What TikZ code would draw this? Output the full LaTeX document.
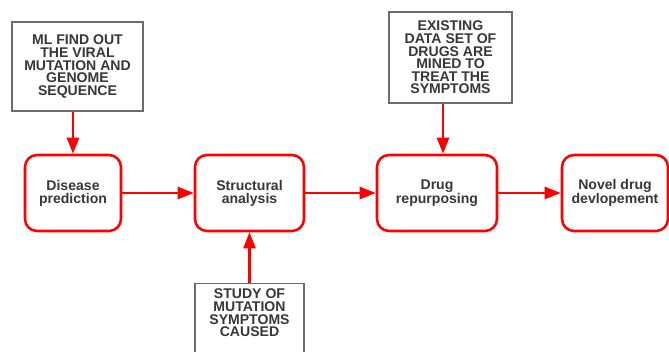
\documentclass[tikz,border=0pt]{standalone}
\usepackage{fontspec}
\setmainfont{Liberation Sans}
\usetikzlibrary{arrows.meta}
\definecolor{flowred}{RGB}{255,0,0}
\definecolor{txtgray}{RGB}{55,55,55}
\begin{document}
\begin{tikzpicture}[x=0.025cm,y=-0.025cm,
        note/.style={draw=gray!85!black,line width=1pt,fill=white,text=txtgray,align=center,
            font=\fontsize{10}{9}\selectfont\bfseries,inner sep=0pt},
        stage/.style={draw=flowred,line width=1.8pt,rounded corners=0.3cm,fill=white,text=txtgray,
            align=center,font=\fontsize{10}{9.2}\selectfont\bfseries,minimum height=76*0.025cm},
        flow/.style={flowred,line width=1.8pt,-{Triangle[length=0.4cm,width=0.3cm]}}]
        \useasboundingbox (0,0) rectangle (669,351);
        \clip (0,0) rectangle (669,351);
        %boites grises
        \node[note,minimum width=131*0.025cm,minimum height=89*0.025cm] (ml) at (77.5,66.5)
            {ML FIND OUT\\THE VIRAL\\MUTATION AND\\GENOME\\SEQUENCE};
        \node[note,minimum width=123*0.025cm,minimum height=91*0.025cm] (mined) at (450.5,57.5)
            {EXISTING\\DATA SET OF\\DRUGS ARE\\MINED TO\\TREAT THE\\SYMPTOMS};
        \node[note,minimum width=109*0.025cm,minimum height=74*0.025cm,anchor=north] (study) at (249.5,283)
            {STUDY OF\\MUTATION\\SYMPTOMS\\CAUSED\\[2pt]};
        %etapes
        \node[stage,minimum width=96*0.025cm] (disease) at (73,193) {Disease\\prediction};
        \node[stage,minimum width=109*0.025cm] (struct) at (249.5,193) {Structural\\analysis};
        \node[stage,minimum width=120*0.025cm] (repurp) at (437,193) {Drug\\repurposing};
        \node[stage,minimum width=106*0.025cm] (novel) at (615,193) {Novel drug\\devlopement};
        %fleches
        \draw[flow] (disease) -- (struct);
        \draw[flow] (struct) -- (repurp);
        \draw[flow] (repurp) -- (novel);
        \draw[flow] (ml.south -| disease.north) -- (disease.north);
        \draw[flow] (mined.south -| repurp.north) ++(6,0) -- ([xshift=6*0.025cm]repurp.north);
        \draw[flow] (study) -- (struct);
\end{tikzpicture}
\end{document}
